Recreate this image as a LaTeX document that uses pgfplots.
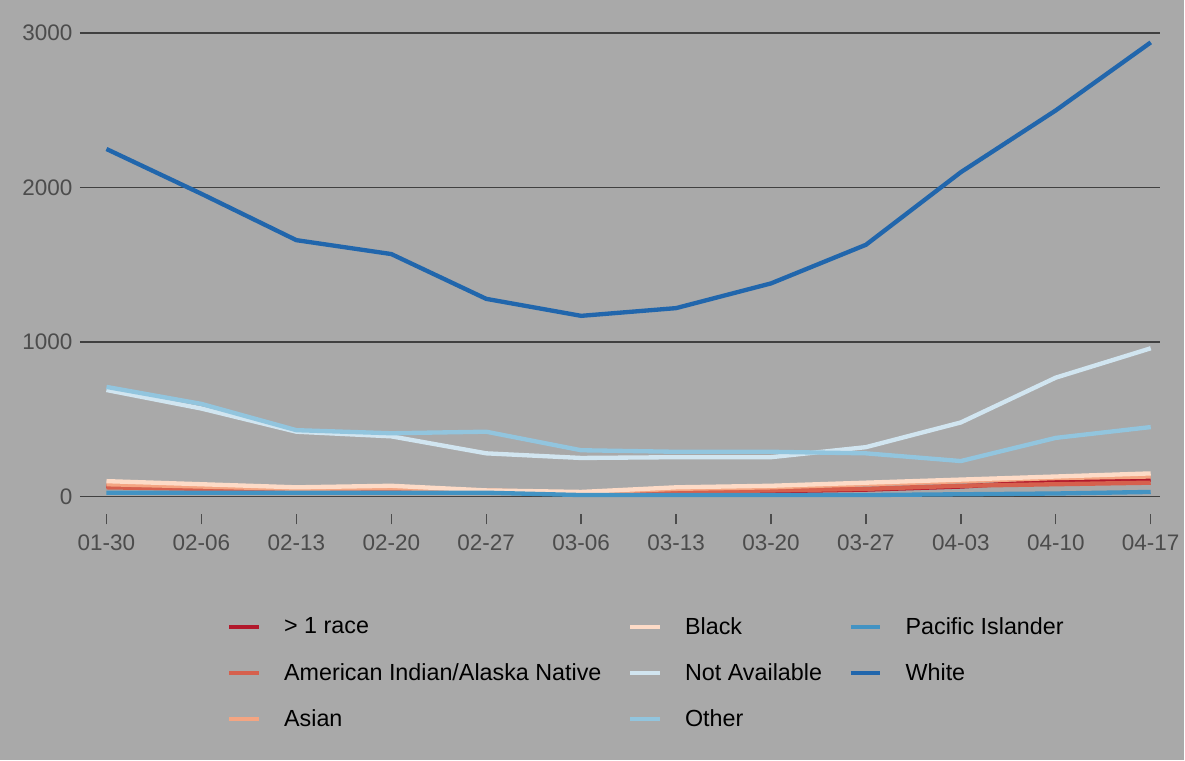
\documentclass[border=0pt]{standalone}
\usepackage{pgfplots}
\pgfplotsset{compat=1.18}
\usepackage{fontspec}
\setmainfont{Liberation Sans}
\definecolor{bg}{HTML}{A9A9A9}
\definecolor{c1}{HTML}{B2182B}
\definecolor{c2}{HTML}{D6604D}
\definecolor{c3}{HTML}{F4A582}
\definecolor{c4}{HTML}{FDDBC7}
\definecolor{c5}{HTML}{D1E5F0}
\definecolor{c6}{HTML}{92C5DE}
\definecolor{c7}{HTML}{4393C3}
\definecolor{c8}{HTML}{2166AC}
\begin{document}
\begin{tikzpicture}
\fill[bg] (0,0) rectangle (711pt,456.6pt);
\begin{axis}[
  at={(48pt,147.6pt)}, anchor=south west,
  scale only axis, width=649pt, height=303pt,
  xmin=-0.28, xmax=11.1, ymin=-115, ymax=3150,
  axis line style={draw=none},
  xtick={0,...,11},
  xticklabels={01-30,02-06,02-13,02-20,02-27,03-06,03-13,03-20,03-27,04-03,04-10,04-17},
  ytick={0,1000,2000,3000},
  ymajorgrids, grid style={black!75, line width=0.9pt},
  major tick length=6pt,
  xtick style={color=black!70, line width=0.8pt}, ytick style={draw=none},
  tick align=outside, xtick pos=bottom,
  ticklabel style={font=\fontsize{13.5}{15}\selectfont, text=black!70},
  xticklabel style={yshift=-3pt},
  yticklabel style={xshift=5pt},
  /pgf/number format/assume math mode=true,
  /pgf/number format/1000 sep={},
  every axis plot/.append style={line width=2.6pt, mark=none},
  legend columns=3, transpose legend,
  legend style={at={(0.525,-0.19)}, anchor=north, draw=none, fill=none,
    font=\fontsize{14}{16}\selectfont, text=black,
    /tikz/every odd column/.append style={column sep=12pt},
    /tikz/every even column/.append style={column sep=14pt},
    row sep=12pt},
  legend cell align=left,
  legend image code/.code={\draw[#1, line width=2.6pt] (0cm,0cm) -- (0.62cm,0cm);},
]
\addplot[c1] coordinates {(0,70)(1,55)(2,40)(3,40)(4,30)(5,15)(6,25)(7,35)(8,45)(9,65)(10,100)(11,110)};
\addlegendentry{> 1 race}
\addplot[c2] coordinates {(0,60)(1,50)(2,40)(3,40)(4,30)(5,20)(6,30)(7,40)(8,50)(9,70)(10,80)(11,90)};
\addlegendentry{American Indian/Alaska Native}
\addplot[c3] coordinates {(0,80)(1,65)(2,50)(3,55)(4,40)(5,25)(6,50)(7,60)(8,80)(9,100)(10,120)(11,130)};
\addlegendentry{Asian}
\addplot[c4] coordinates {(0,100)(1,80)(2,60)(3,70)(4,40)(5,30)(6,60)(7,70)(8,90)(9,110)(10,130)(11,150)};
\addlegendentry{Black}
\addplot[c5] coordinates {(0,690)(1,570)(2,420)(3,390)(4,280)(5,250)(6,255)(7,255)(8,320)(9,480)(10,770)(11,960)};
\addlegendentry{Not Available}
\addplot[c6] coordinates {(0,710)(1,600)(2,430)(3,410)(4,420)(5,300)(6,290)(7,290)(8,280)(9,230)(10,380)(11,450)};
\addlegendentry{Other}
\addplot[c7] coordinates {(0,25)(1,25)(2,25)(3,25)(4,25)(5,10)(6,10)(7,10)(8,10)(9,15)(10,20)(11,30)};
\addlegendentry{Pacific Islander}
\addplot[c8] coordinates {(0,2250)(1,1960)(2,1660)(3,1570)(4,1280)(5,1170)(6,1220)(7,1380)(8,1630)(9,2100)(10,2500)(11,2940)};
\addlegendentry{White}
\end{axis}
\end{tikzpicture}
\end{document}
